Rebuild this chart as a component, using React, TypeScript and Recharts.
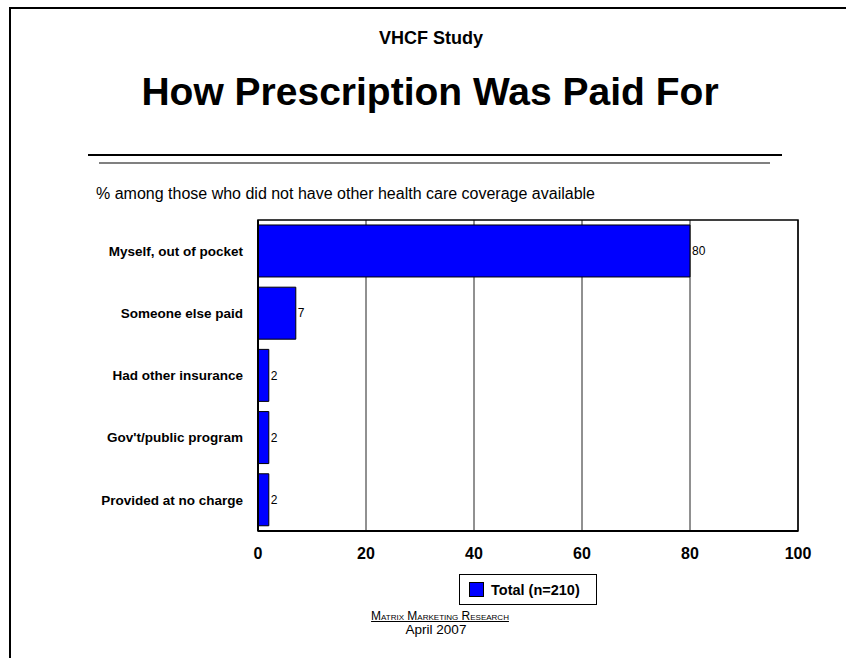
import React from 'react';
import {
  BarChart, Bar, XAxis, YAxis, CartesianGrid, LabelList, ReferenceArea
} from 'recharts';

const categories = [
  'Myself, out of pocket',
  'Someone else paid',
  'Had other insurance',
  "Gov't/public program ",
  'Provided at no charge',
];
const totalValues = [80, 7, 2, 2, 2];
const xTicks = [0, 20, 40, 60, 80, 100];

const data = categories.map((name, i) => ({ name, total: totalValues[i] }));

const FONT = '"Liberation Sans", Arial, sans-serif';

const Legend = () => (
  <div
    style={{
      position: 'absolute', left: 459, top: 574, width: 136, height: 29,
      border: '1px solid #000', background: '#fff', boxSizing: 'content-box',
      display: 'flex', alignItems: 'center', fontFamily: FONT,
    }}
  >
    <div style={{ width: 13, height: 13, background: '#0000ff', border: '1px solid #000', marginLeft: 9 }} />
    <span style={{ marginLeft: 7, fontSize: 14.5, fontWeight: 'bold', whiteSpace: 'nowrap' }}>Total (n=210)</span>
  </div>
);

export default function App() {
  return (
    <div style={{ position: 'absolute', left: 0, top: 0, width: 846, height: 658, background: '#fff', fontFamily: FONT, overflow: 'hidden' }}>
      {/* page frame: top and left edges only */}
      <div style={{ position: 'absolute', left: 9, top: 7, width: 837, height: 2, background: '#000' }} />
      <div style={{ position: 'absolute', left: 9, top: 7, width: 2, height: 651, background: '#000' }} />

      <div style={{ position: 'absolute', left: 0, width: 862, top: 28, textAlign: 'center', fontSize: 18, fontWeight: 'bold' }}>
        VHCF Study
      </div>
      <div style={{ position: 'absolute', left: 0, width: 860, top: 70, textAlign: 'center', fontSize: 39, fontWeight: 'bold', whiteSpace: 'nowrap' }}>
        How Prescription Was Paid For
      </div>
      <div style={{ position: 'absolute', left: 88, top: 154, width: 694, height: 2, background: '#000' }} />
      <div style={{ position: 'absolute', left: 99, top: 162, width: 671, height: 2, background: '#808080' }} />
      <div style={{ position: 'absolute', left: 96, top: 185, fontSize: 16, whiteSpace: 'nowrap' }}>
        % among those who did not have other health care coverage available
      </div>

      <div style={{ position: 'absolute', left: 0, top: 0 }}>
        <BarChart
          width={846}
          height={658}
          data={data}
          layout="vertical"
          margin={{ top: 220, right: 48, bottom: 87, left: 40 }}
          barCategoryGap="8%"
        >
          <CartesianGrid horizontal={false} stroke="#222" strokeWidth={1} />
          <XAxis
            type="number"
            domain={[0, 100]}
            ticks={xTicks}
            tickSize={0}
            tickMargin={17}
            height={40}
            axisLine={{ stroke: '#000', strokeWidth: 2 }}
            tick={{ fontSize: 16, fontWeight: 'bold', fill: '#000', fontFamily: FONT }}
          />
          <YAxis
            type="category"
            dataKey="name"
            width={218}
            tickSize={0}
            tickMargin={15}
            axisLine={{ stroke: '#000', strokeWidth: 2 }}
            tick={{ fontSize: 13.5, fontWeight: 'bold', fill: '#000', fontFamily: FONT }}
          />
          <ReferenceArea x1={0} x2={100} fill="none" stroke="#000" strokeWidth={1.5} fillOpacity={0} ifOverflow="visible" />
          <Bar dataKey="total" fill="#0000ff" stroke="#000" strokeWidth={1} isAnimationActive={false}>
            <LabelList dataKey="total" position="right" offset={2} style={{ fontSize: 12, fill: '#000', fontFamily: FONT }} />
          </Bar>
        </BarChart>
      </div>

      <Legend />

      <div style={{ position: 'absolute', left: 340, width: 200, top: 610, height: 12, textAlign: 'center', fontSize: 12, lineHeight: '12px', fontVariant: 'small-caps', textDecoration: 'underline', whiteSpace: 'nowrap' }}>
        Matrix Marketing Research
      </div>
      <div style={{ position: 'absolute', left: 336, width: 200, top: 623, height: 13, textAlign: 'center', fontSize: 13.5, lineHeight: '13px', whiteSpace: 'nowrap' }}>
        April 2007
      </div>
    </div>
  );
}
